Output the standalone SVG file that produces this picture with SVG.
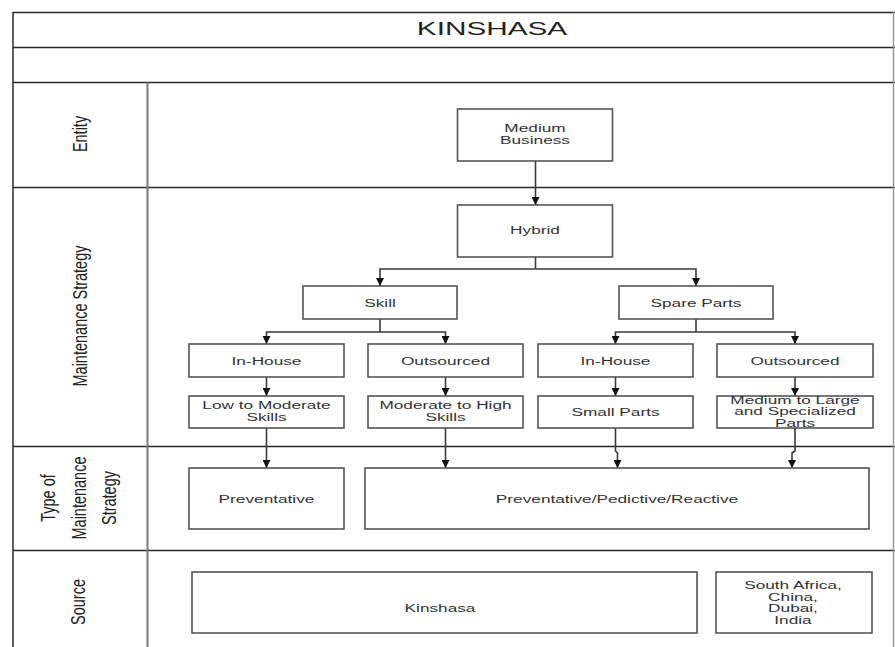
<svg xmlns="http://www.w3.org/2000/svg" width="895" height="647" viewBox="0 0 895 647">
  <style>
    .frame { stroke: #2a2a2a; stroke-width: 1.5; fill: none; }
    .divider { stroke: #7a7a7a; stroke-width: 2; fill: none; }
    .box { fill: #ffffff; stroke: #555555; stroke-width: 1.6; }
    .conn { fill: none; stroke: #3a3a3a; stroke-width: 1.6; }
    .t { font-family: "Liberation Sans", Arial, sans-serif; font-size: 11.5px; fill: #333333; text-anchor: middle; }
    .lane { font-family: "Liberation Sans", Arial, sans-serif; font-size: 14.5px; fill: #222222; text-anchor: middle; dominant-baseline: central; }
    .title { font-family: "Liberation Sans", Arial, sans-serif; font-size: 17.5px; fill: #222222; text-anchor: middle; }
  </style>
  <defs>
    <marker id="arrow" markerUnits="userSpaceOnUse" markerWidth="9" markerHeight="8" refX="8" refY="4" orient="auto">
      <path d="M0,0 L8,4 L0,8 z" fill="#111111"/>
    </marker>
  </defs>

  <rect x="0" y="0" width="895" height="647" fill="#ffffff"/>

  <!-- pool frame and lanes -->
  <g id="pool">
    <line class="frame" x1="13" y1="12.5" x2="895" y2="12.5"/>
    <line class="frame" x1="13" y1="47.5" x2="895" y2="47.5"/>
    <line class="frame" x1="13" y1="82.5" x2="895" y2="82.5"/>
    <line class="frame" x1="13" y1="187.5" x2="895" y2="187.5"/>
    <line class="frame" x1="13" y1="446.5" x2="895" y2="446.5"/>
    <line class="frame" x1="13" y1="550.5" x2="895" y2="550.5"/>
    <line class="frame" x1="13" y1="12" x2="13" y2="647"/>
    <line x1="893.5" y1="12" x2="893.5" y2="647" stroke="#9a9a9a" stroke-width="1.5"/>
    <line class="divider" x1="147.5" y1="82.5" x2="147.5" y2="647"/>
    <text class="title" transform="translate(492,35) scale(1.7,1)">KINSHASA</text>
  </g>

  <g id="lane-labels">
    <text class="lane" transform="translate(80,134) scale(1.45,1) rotate(-90)">Entity</text>
    <text class="lane" transform="translate(80,316) scale(1.45,1) rotate(-90)">Maintenance Strategy</text>
    <text class="lane" transform="translate(48,498) scale(1.45,1) rotate(-90)">Type of</text>
    <text class="lane" transform="translate(79,498) scale(1.45,1) rotate(-90)">Maintenance</text>
    <text class="lane" transform="translate(109,498) scale(1.45,1) rotate(-90)">Strategy</text>
    <text class="lane" transform="translate(78,602) scale(1.45,1) rotate(-90)">Source</text>
  </g>

  <!-- connectors -->
  <g id="connectors">
    <path class="conn" d="M535.5,161 V205" marker-end="url(#arrow)"/>
    <path class="conn" d="M535.5,257 V269"/>
    <path class="conn" d="M535.5,269 H380 V286" marker-end="url(#arrow)"/>
    <path class="conn" d="M535.5,269 H696 V286" marker-end="url(#arrow)"/>
    <path class="conn" d="M380,319 V332"/>
    <path class="conn" d="M380,332 H266.5 V344" marker-end="url(#arrow)"/>
    <path class="conn" d="M380,332 H445.5 V344" marker-end="url(#arrow)"/>
    <path class="conn" d="M696,319 V332"/>
    <path class="conn" d="M696,332 H615.5 V344" marker-end="url(#arrow)"/>
    <path class="conn" d="M696,332 H795 V344" marker-end="url(#arrow)"/>
    <path class="conn" d="M266.5,377 V396" marker-end="url(#arrow)"/>
    <path class="conn" d="M445.5,377 V396" marker-end="url(#arrow)"/>
    <path class="conn" d="M615.5,377 V396" marker-end="url(#arrow)"/>
    <path class="conn" d="M795,377 V396" marker-end="url(#arrow)"/>
    <path class="conn" d="M266.5,428 V468" marker-end="url(#arrow)"/>
    <path class="conn" d="M445.5,428 V468" marker-end="url(#arrow)"/>
    <path class="conn" d="M615.5,428 V451 L617.5,453 V468" marker-end="url(#arrow)"/>
    <path class="conn" d="M795,428 V451 L792,453 V468" marker-end="url(#arrow)"/>
  </g>

  <!-- nodes -->
  <g id="medium-business">
    <rect class="box" x="457.5" y="109" width="155" height="52"/>
    <text class="t" transform="translate(535,131.5) scale(1.5,1)">Medium</text>
    <text class="t" transform="translate(535,143.5) scale(1.5,1)">Business</text>
  </g>
  <g id="hybrid">
    <rect class="box" x="457.5" y="205" width="155" height="52"/>
    <text class="t" transform="translate(535,234) scale(1.5,1)">Hybrid</text>
  </g>
  <g id="skill">
    <rect class="box" x="303" y="286" width="154" height="33"/>
    <text class="t" transform="translate(380,306.5) scale(1.5,1)">Skill</text>
  </g>
  <g id="spare-parts">
    <rect class="box" x="619" y="286" width="154" height="33"/>
    <text class="t" transform="translate(696,306.5) scale(1.5,1)">Spare Parts</text>
  </g>
  <g id="skill-inhouse">
    <rect class="box" x="189" y="344" width="155" height="33"/>
    <text class="t" transform="translate(266.5,364.5) scale(1.5,1)">In-House</text>
  </g>
  <g id="skill-outsourced">
    <rect class="box" x="368" y="344" width="155" height="33"/>
    <text class="t" transform="translate(445.5,364.5) scale(1.5,1)">Outsourced</text>
  </g>
  <g id="parts-inhouse">
    <rect class="box" x="538" y="344" width="155" height="33"/>
    <text class="t" transform="translate(615.5,364.5) scale(1.5,1)">In-House</text>
  </g>
  <g id="parts-outsourced">
    <rect class="box" x="717" y="344" width="156" height="33"/>
    <text class="t" transform="translate(795,364.5) scale(1.5,1)">Outsourced</text>
  </g>
  <g id="low-moderate-skills">
    <rect class="box" x="189" y="396" width="155" height="32"/>
    <text class="t" transform="translate(266.5,409) scale(1.5,1)">Low to Moderate</text>
    <text class="t" transform="translate(266.5,420.5) scale(1.5,1)">Skills</text>
  </g>
  <g id="moderate-high-skills">
    <rect class="box" x="368" y="396" width="155" height="32"/>
    <text class="t" transform="translate(445.5,409) scale(1.5,1)">Moderate to High</text>
    <text class="t" transform="translate(445.5,420.5) scale(1.5,1)">Skills</text>
  </g>
  <g id="small-parts">
    <rect class="box" x="538" y="396" width="155" height="32"/>
    <text class="t" transform="translate(615.5,416) scale(1.5,1)">Small Parts</text>
  </g>
  <g id="medium-large-parts">
    <rect class="box" x="717" y="396" width="156" height="32"/>
    <text class="t" transform="translate(795,403.5) scale(1.5,1)">Medium to Large</text>
    <text class="t" transform="translate(795,415) scale(1.5,1)">and Specialized</text>
    <text class="t" transform="translate(795,426.5) scale(1.5,1)">Parts</text>
  </g>
  <g id="preventative">
    <rect class="box" x="189" y="468" width="155" height="61"/>
    <text class="t" transform="translate(266.5,502.5) scale(1.5,1)">Preventative</text>
  </g>
  <g id="preventative-predictive-reactive">
    <rect class="box" x="365" y="468" width="504" height="61"/>
    <text class="t" transform="translate(617,502.5) scale(1.5,1)">Preventative/Pedictive/Reactive</text>
  </g>
  <g id="source-kinshasa">
    <rect class="box" x="192" y="572" width="505" height="61"/>
    <text class="t" transform="translate(440,611.5) scale(1.5,1)">Kinshasa</text>
  </g>
  <g id="source-abroad">
    <rect class="box" x="716" y="572" width="156" height="61"/>
    <text class="t" transform="translate(793,588.5) scale(1.5,1)">South Africa,</text>
    <text class="t" transform="translate(793,600.5) scale(1.5,1)">China,</text>
    <text class="t" transform="translate(793,612) scale(1.5,1)">Dubai,</text>
    <text class="t" transform="translate(793,623.5) scale(1.5,1)">India</text>
  </g>
</svg>
